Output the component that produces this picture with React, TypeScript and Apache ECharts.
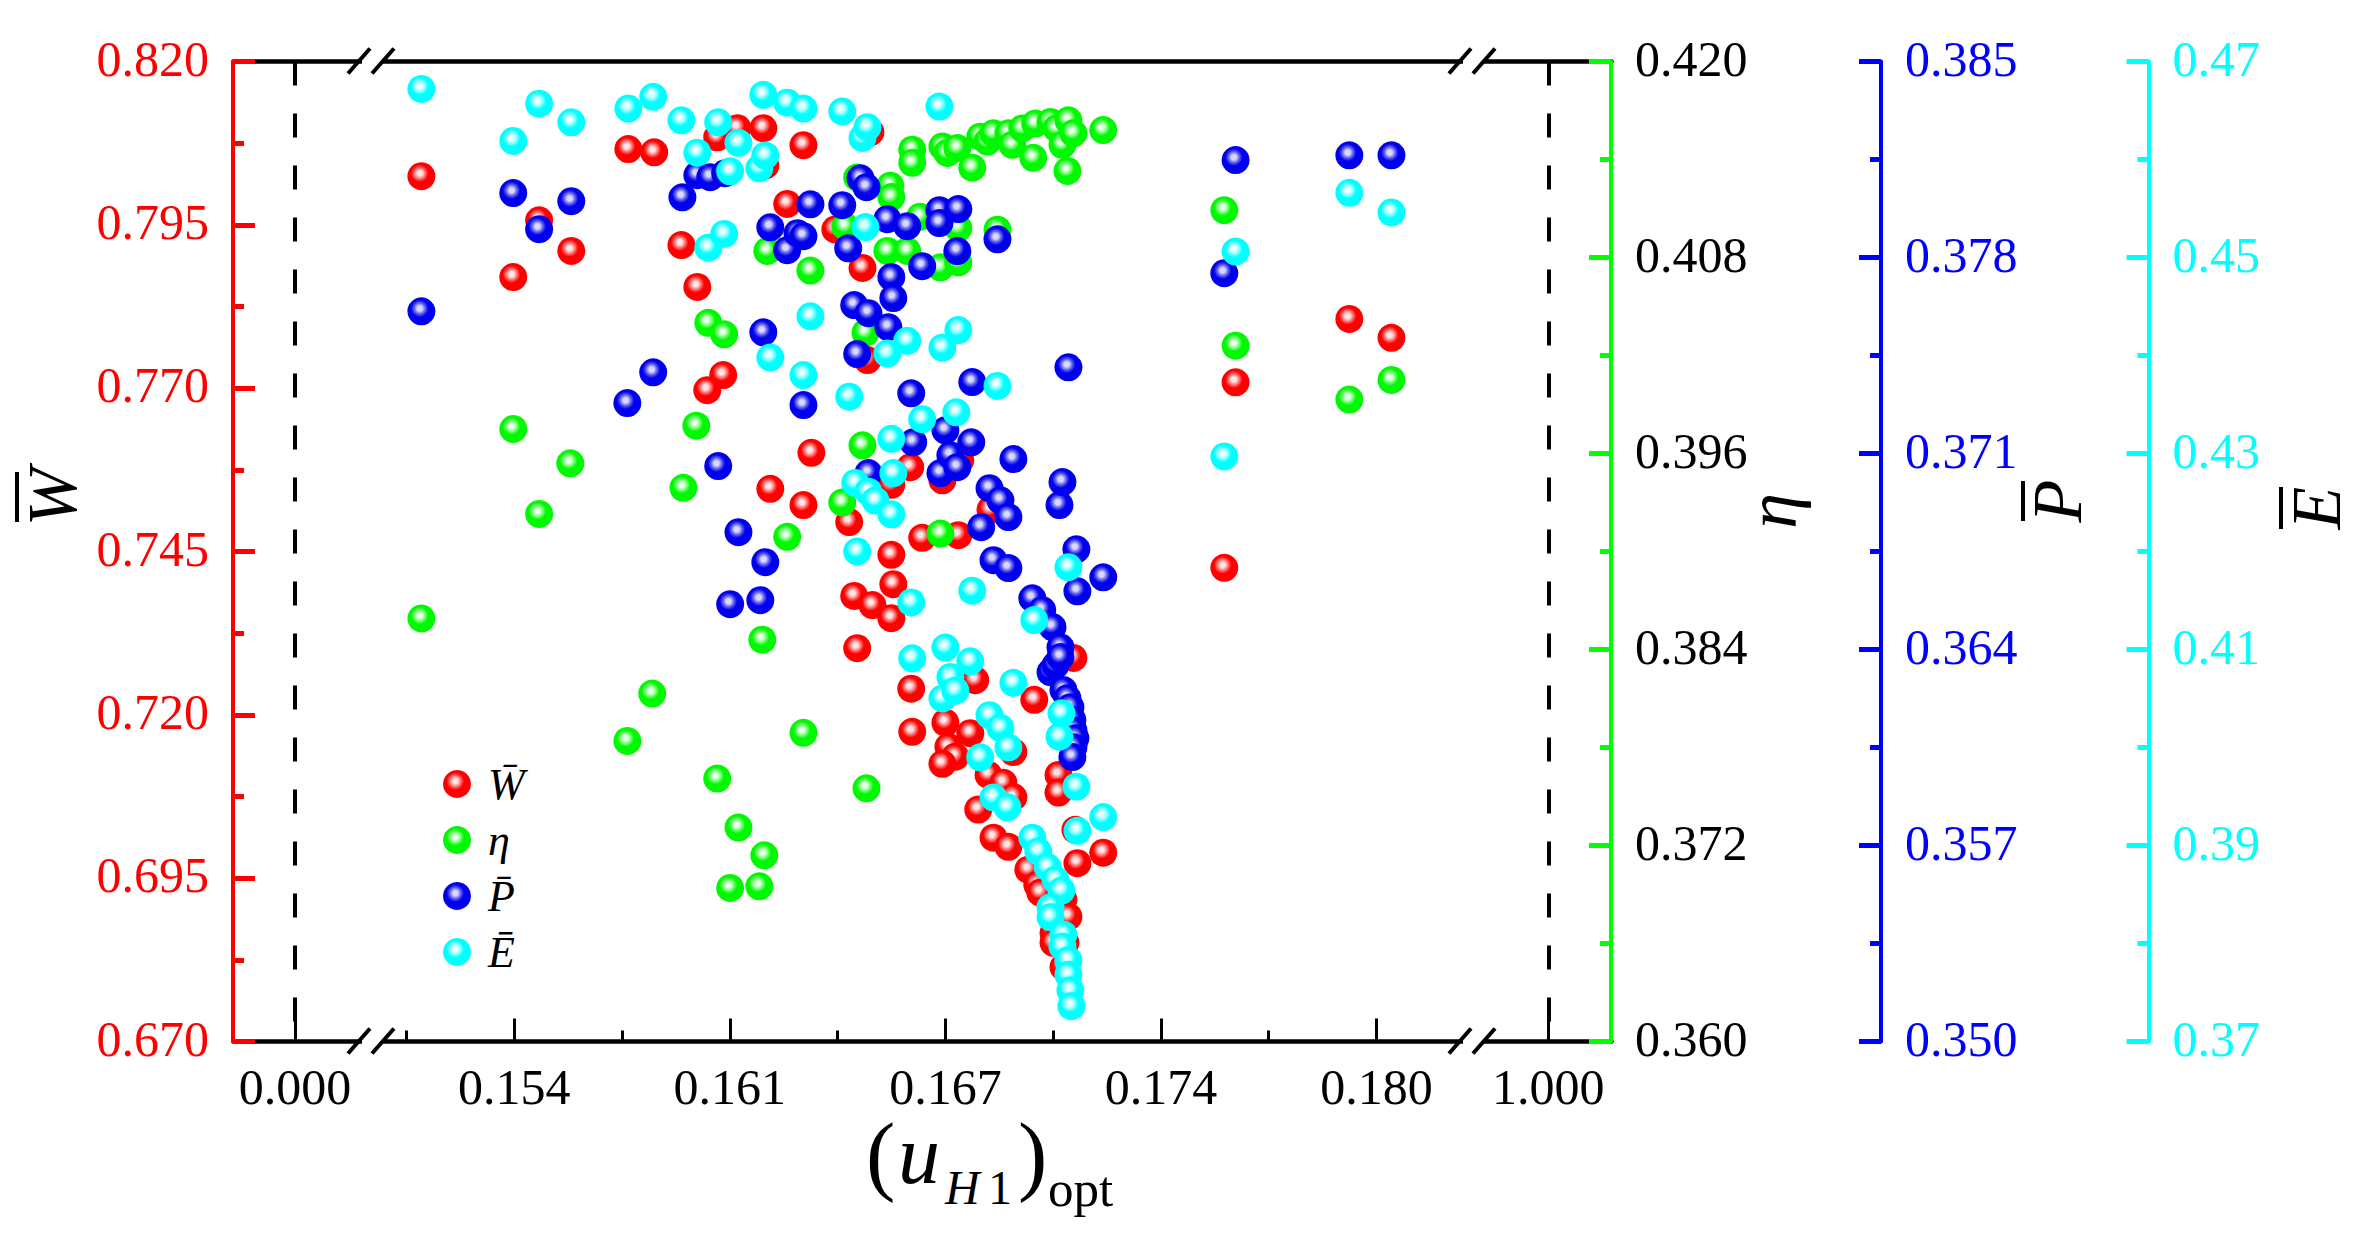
import React, { useEffect, useRef } from "react";
import * as echarts from "echarts";

const SERIF = '"Liberation Serif"';

const xMajorTicks = [0, 0.154, 0.1605, 0.167, 0.1735, 0.18, 1];
const xTickLabels = ["0.000", "0.154", "0.161", "0.167", "0.174", "0.180", "1.000"];
const xMinorTicks = [0.15075, 0.15725, 0.16375, 0.17025, 0.17675];

const wTicks = [0.67, 0.695, 0.72, 0.745, 0.77, 0.795, 0.82];
const wMinor = [0.6825, 0.7075, 0.7325, 0.7575, 0.7825, 0.8075];
const etaTicks = [0.36, 0.372, 0.384, 0.396, 0.408, 0.42];
const etaMinor = [0.366, 0.378, 0.39, 0.402, 0.414];
const pTicks = [0.35, 0.357, 0.364, 0.371, 0.378, 0.385];
const pMinor = [0.3535, 0.3605, 0.3675, 0.3745, 0.3815];
const eTicks = [0.37, 0.39, 0.41, 0.43, 0.45, 0.47];
const eMinor = [0.38, 0.4, 0.42, 0.44, 0.46];

const wPoints = [
  [0.1512,0.80245],[0.15397,0.787],[0.15475,0.7957],[0.15572,0.791],[0.15744,0.8066],[0.15822,0.8061],[0.16012,0.8084],[0.16073,0.8098],
  [0.16151,0.8098],[0.16272,0.8072],[0.16157,0.8041],[0.15904,0.7919],[0.15952,0.7855],[0.16223,0.7982],[0.1603,0.772],[0.15982,0.7697],
  [0.16368,0.7943],[0.1645,0.7884],[0.16465,0.7743],[0.16474,0.8092],[0.16296,0.7601],[0.16172,0.7546],[0.16272,0.7521],[0.1641,0.7495],
  [0.16594,0.7579],[0.16537,0.7552],[0.1663,0.7471],[0.16739,0.7475],[0.16691,0.7559],[0.16745,0.759],[0.16537,0.7445],[0.16543,0.74],
  [0.16425,0.7382],[0.1648,0.7368],[0.16537,0.7348],[0.16434,0.7302],[0.16836,0.7514],[0.16597,0.724],[0.166,0.7174],[0.167,0.7188],
  [0.16775,0.7172],[0.16709,0.7151],[0.1673,0.7136],[0.16691,0.7125],[0.1679,0.7253],[0.16968,0.7223],[0.17086,0.7287],[0.1683,0.7108],
  [0.16875,0.7096],[0.16905,0.7074],[0.16905,0.7143],[0.17041,0.7108],[0.17041,0.7081],[0.16799,0.7055],[0.16845,0.7012],[0.1689,0.6998],
  [0.17098,0.6973],[0.17176,0.6989],[0.17092,0.7024],[0.1695,0.6963],[0.16977,0.694],[0.16986,0.6928],[0.17056,0.6917],[0.17026,0.6866],
  [0.17026,0.6851],[0.17062,0.6851],[0.17071,0.6891],[0.17056,0.6814],[0.17541,0.7425],[0.17575,0.7709],[0.17918,0.7806],[0.18045,0.7777],
];

const etaPoints = [
  [0.1512,0.3859],[0.15397,0.3975],[0.15475,0.3923],[0.15569,0.3954],[0.15741,0.3784],[0.15816,0.3813],[0.1591,0.3939],[0.15949,0.3977],
  [0.15985,0.404],[0.16033,0.4033],[0.16012,0.3761],[0.16051,0.3694],[0.16076,0.3731],[0.16139,0.3695],[0.16154,0.3714],[0.16148,0.3846],
  [0.16223,0.3909],[0.16163,0.4084],[0.16272,0.3789],[0.16293,0.4072],[0.16389,0.393],[0.16398,0.4099],[0.16434,0.4129],[0.1645,0.3965],
  [0.16459,0.4034],[0.16462,0.3755],[0.16525,0.4084],[0.16534,0.4124],[0.16537,0.4117],[0.16585,0.4084],[0.166,0.4146],[0.166,0.4138],
  [0.16624,0.4105],[0.16685,0.4074],[0.16685,0.3911],[0.16691,0.4148],[0.16706,0.4144],[0.16736,0.4147],[0.16739,0.4098],[0.16739,0.4077],
  [0.16781,0.4135],[0.16805,0.4154],[0.16827,0.4151],[0.16845,0.4156],[0.16857,0.4097],[0.1689,0.4156],[0.16902,0.4149],[0.16932,0.4159],
  [0.16965,0.4141],[0.16971,0.4162],[0.17017,0.4163],[0.17035,0.4159],[0.17053,0.4149],[0.17071,0.4164],[0.17086,0.4156],[0.17068,0.4133],
  [0.17176,0.4158],[0.17541,0.4109],[0.17575,0.4026],[0.17918,0.3993],[0.18045,0.4005],
];

const pPoints = [
  [0.1512,0.37608],[0.15397,0.3803],[0.15475,0.37901],[0.15572,0.38001],[0.15741,0.3728],[0.15819,0.3739],[0.15907,0.38015],[0.15952,0.38094],
  [0.15991,0.38087],[0.16036,0.38101],[0.16015,0.37055],[0.16076,0.36819],[0.16051,0.36562],[0.16142,0.36576],[0.16157,0.36712],[0.16151,0.37533],
  [0.16172,0.37908],[0.16223,0.37826],[0.16254,0.37887],[0.16272,0.37876],[0.16272,0.37273],[0.16293,0.3799],[0.16389,0.37987],[0.16407,0.37833],
  [0.16425,0.3763],[0.16434,0.37455],[0.16444,0.38083],[0.16462,0.38051],[0.16468,0.37601],[0.16468,0.3703],[0.16525,0.37937],[0.16528,0.37551],
  [0.16537,0.3773],[0.16543,0.37655],[0.16585,0.37912],[0.16597,0.37315],[0.16603,0.3714],[0.1663,0.37769],[0.16682,0.37969],[0.16682,0.37923],
  [0.16685,0.3703],[0.167,0.37183],[0.16715,0.37094],[0.16736,0.37823],[0.16736,0.37051],[0.16739,0.37973],[0.16778,0.3714],[0.16781,0.37355],
  [0.16808,0.36837],[0.16833,0.36976],[0.16845,0.36719],[0.16857,0.37865],[0.16866,0.36933],[0.1689,0.36873],[0.1689,0.36691],[0.16905,0.3708],
  [0.16962,0.36583],[0.16992,0.36541],[0.17017,0.36319],[0.17023,0.3648],[0.17032,0.36344],[0.17047,0.36408],[0.17047,0.36373],[0.17044,0.36916],
  [0.17053,0.36998],[0.17056,0.36255],[0.17068,0.36226],[0.17077,0.36194],[0.17083,0.36148],[0.17086,0.36112],[0.17092,0.36083],[0.17086,0.36051],
  [0.17083,0.36016],[0.17071,0.37408],[0.17095,0.36758],[0.17098,0.36608],[0.17176,0.36658],[0.17541,0.37744],[0.17575,0.38148],[0.17918,0.38165],[0.18045,0.38165],
];

const ePoints = [
  [0.1512,0.4672],[0.15397,0.4619],[0.15475,0.4657],[0.15572,0.4638],[0.15744,0.4652],[0.15819,0.4664],[0.15904,0.464],[0.15952,0.4607],
  [0.16015,0.4638],[0.15985,0.451],[0.16033,0.4524],[0.16051,0.4588],[0.16076,0.4617],[0.16139,0.4591],[0.16151,0.4666],[0.16157,0.4604],
  [0.16172,0.4398],[0.16223,0.4658],[0.16272,0.4652],[0.16272,0.438],[0.16293,0.444],[0.16389,0.4649],[0.1641,0.4358],[0.16428,0.427],
  [0.16434,0.42],[0.1645,0.4622],[0.16465,0.4633],[0.16459,0.4531],[0.16468,0.4261],[0.16489,0.4252],[0.16525,0.4402],[0.16537,0.4315],
  [0.16537,0.4238],[0.16543,0.428],[0.16585,0.4415],[0.16597,0.4148],[0.166,0.4091],[0.1663,0.4335],[0.16682,0.4654],[0.16691,0.4408],
  [0.16691,0.405],[0.167,0.4102],[0.16715,0.4072],[0.1673,0.4058],[0.16733,0.4342],[0.16739,0.4426],[0.16775,0.4088],[0.16781,0.416],
  [0.16805,0.399],[0.16833,0.4033],[0.16845,0.3949],[0.16857,0.4369],[0.16866,0.402],[0.1689,0.4],[0.16887,0.3939],[0.16905,0.4066],
  [0.16962,0.3908],[0.16968,0.413],[0.1698,0.3894],[0.17008,0.3878],[0.17032,0.3865],[0.17044,0.4011],[0.1705,0.4035],[0.1705,0.3854],
  [0.17017,0.3837],[0.17017,0.3827],[0.17056,0.3809],[0.17053,0.3797],[0.17071,0.3783],[0.17071,0.3768],[0.17077,0.3752],[0.1708,0.3736],
  [0.17071,0.4184],[0.17095,0.396],[0.17098,0.3915],[0.17176,0.3929],[0.17541,0.4297],[0.17575,0.4506],[0.17918,0.4566],[0.18045,0.4546],
];

const seriesNames = ["W\u0304", "\u03B7", "P\u0304", "E\u0304"];

const ball = (hi: string, mid: string, base: string) => ({
  type: "radial", x: 0.44, y: 0.4, r: 0.62,
  colorStops: [
    { offset: 0, color: hi }, { offset: 0.14, color: hi },
    { offset: 0.32, color: mid }, { offset: 0.5, color: base }, { offset: 1, color: base },
  ],
});

const balls = [
  ball("#ffe4e4", "#ff7070", "#ff0000"),
  ball("#e4ffe4", "#70ff70", "#00f800"),
  ball("#d8d8ff", "#6060f0", "#0000ee"),
  ball("#e8ffff", "#80ffff", "#00ffff"),
];

const xBreaks = [
  { start: 0.0023, end: 0.14969, gap: 0 },
  { start: 0.18291, end: 0.99773, gap: 0 },
];
const xBase = {
  type: "value", min: -0.00187, max: 1.00189, breaks: xBreaks,
  breakArea: { show: false }, splitLine: { show: false }, scale: false,
};

const yMain = (ticks: number[], pos: string, off: number, col: string, labelCol: string, dec: number) => ({
  type: "value", position: pos, offset: off, min: ticks[0], max: ticks[ticks.length - 1], z: 3,
  splitLine: { show: false },
  axisLine: { show: true, onZero: false, lineStyle: { color: col, width: 4 } },
  axisTick: { show: true, inside: true, length: 22, lineStyle: { color: col, width: 5 }, customValues: ticks },
  axisLabel: {
    show: true, margin: 24, color: labelCol, fontFamily: SERIF, fontSize: 50, customValues: ticks,
    formatter: (v: number) => `{a|${v.toFixed(dec)}}`,
    rich: { a: { color: labelCol, fontFamily: SERIF, fontSize: 50, padding: [0, 0, 6, 0] } },
  },
});
const yMinor = (ticks: number[], minor: number[], pos: string, off: number, col: string) => ({
  type: "value", position: pos, offset: off, min: ticks[0], max: ticks[ticks.length - 1], z: 3,
  splitLine: { show: false }, axisLine: { show: false, onZero: false },
  axisLabel: { show: false },
  axisTick: { show: true, inside: true, length: 11, lineStyle: { color: col, width: 5 }, customValues: minor },
});

const barText = (x: number, y: number, t: string, fs: number, barY: number, barW: number, dx = 0) => ({
  type: "group", x, y, rotation: Math.PI / 2, z: 20,
  children: [
    { type: "text", x: 0, y: 0, style: { text: t, font: `italic ${fs}px ${SERIF}`, fill: "#000", textAlign: "center", textVerticalAlign: "middle" } },
    ...(barW > 0 ? [{ type: "rect", shape: { x: -barW / 2 + dx, y: barY, width: barW, height: 4 }, style: { fill: "#000" } }] : []),
  ],
});

const slashes = (y0: number, x0: number) => [
  { type: "polygon", z: 19, shape: { points: [[x0 + 3, y0 + 4], [x0 + 23, y0 + 4], [x0 + 23, y0 - 4], [x0 + 3, y0 - 4]] }, style: { fill: "#fff" } },
  { type: "line", z: 20, shape: { x1: x0 - 11, y1: y0 + 12, x2: x0 + 11, y2: y0 - 13 }, style: { stroke: "#000", lineWidth: 4 } },
  { type: "line", z: 20, shape: { x1: x0 + 13, y1: y0 + 12, x2: x0 + 35, y2: y0 - 13 }, style: { stroke: "#000", lineWidth: 4 } },
];

const txt = (x: number, y: number, t: string, font: string) => ({
  type: "text", x, y, z: 20, style: { text: t, font, fill: "#000", textAlign: "left", textVerticalAlign: "middle" },
});

export default function App() {
  const ref = useRef<HTMLDivElement>(null);
  useEffect(() => {
    document.body.style.margin = "0";
    const chart = echarts.init(ref.current!, undefined, { renderer: "svg" });
    chart.setOption({
      animation: false,
      backgroundColor: "#fff",
      grid: { left: 233, right: 760, top: 61.5, bottom: 1233 - 1041.5, containLabel: false },
      legend: {
        show: true, orient: "vertical", left: 438, top: 757, itemWidth: 28, itemHeight: 28, itemGap: 12,
        icon: "circle", data: seriesNames, selectedMode: false,
        textStyle: { fontFamily: SERIF, fontStyle: "italic", fontSize: 44, color: "#000", lineHeight: 27, padding: [0, 0, 0, 12] },
      },
      xAxis: [
        {
          ...xBase, position: "bottom", z: 1,
          axisLine: { show: true, onZero: false, lineStyle: { color: "#000", width: 4.5 } },
          axisTick: { show: true, inside: true, length: 23, lineStyle: { color: "#000", width: 3 }, customValues: xMajorTicks },
          axisLabel: {
            show: true, margin: 20, color: "#000", fontFamily: SERIF, fontSize: 50, customValues: xMajorTicks,
            formatter: (v: number) => {
              const i = xMajorTicks.findIndex((t) => Math.abs(t - v) < 1e-6);
              return i >= 0 ? xTickLabels[i] : "";
            },
          },
        },
        {
          ...xBase, position: "bottom", z: 1,
          axisLine: { show: false, onZero: false },
          axisLabel: { show: false },
          axisTick: { show: true, inside: true, length: 11, lineStyle: { color: "#000", width: 3 }, customValues: xMinorTicks },
        },
        {
          ...xBase, position: "top", z: 1,
          axisLine: { show: true, onZero: false, lineStyle: { color: "#000", width: 4.5 } },
          axisLabel: { show: false }, axisTick: { show: false },
        },
      ],
      yAxis: [
        yMain(wTicks, "left", 0, "#ff0000", "#ff0000", 3),
        yMain(etaTicks, "right", 0, "#00ff00", "#000000", 3),
        yMain(pTicks, "right", 270, "#0000ff", "#0000ff", 3),
        yMain(eTicks, "right", 537.5, "#00ffff", "#00ffff", 2),
        yMinor(wTicks, wMinor, "left", 0, "#ff0000"),
        yMinor(etaTicks, etaMinor, "right", 0, "#00ff00"),
        yMinor(pTicks, pMinor, "right", 270, "#0000ff"),
        yMinor(eTicks, eMinor, "right", 537.5, "#00ffff"),
      ],
      series: [
        {
          type: "scatter", name: "guides", data: [], xAxisIndex: 0, yAxisIndex: 0, z: 1, silent: true,
          markLine: {
            silent: true, symbol: "none", label: { show: false },
            lineStyle: { color: "#000", width: 4, type: [24, 28] },
            data: [
              [{ coord: [0, 0.82] }, { coord: [0, 0.67] }],
              [{ coord: [1, 0.82] }, { coord: [1, 0.67] }],
            ],
          },
        },
        ...[wPoints, etaPoints, pPoints, ePoints].map((d, i) => ({
          type: "scatter", name: seriesNames[i], data: d, xAxisIndex: 0, yAxisIndex: i, z: 2 + i,
          symbol: "circle", symbolSize: 28, itemStyle: { color: balls[i], opacity: 1 },
        })),
      ],
      graphic: [
        ...slashes(61.5, 359), ...slashes(1041.5, 359), ...slashes(61.5, 1460), ...slashes(1041.5, 1460),
        barText(52, 497, "W", 70, -37, 50),
        barText(1772, 511, "\u03B7", 72, 0, 0),
        barText(2057, 501, "P", 70, -36, 40),
        barText(2316, 508, "E", 70, -37, 42),
        txt(866, 1154, "(", `88px ${SERIF}`),
        txt(898, 1154, "u", `italic 84px ${SERIF}`),
        txt(945, 1187, "H", `italic 48px ${SERIF}`),
        txt(988, 1187, "1", `48px ${SERIF}`),
        txt(1018, 1154, ")", `88px ${SERIF}`),
        txt(1048, 1189, "opt", `51px ${SERIF}`),
      ],
    });
    return () => chart.dispose();
  }, []);
  return <div ref={ref} style={{ width: 2371, height: 1233 }} />;
}
